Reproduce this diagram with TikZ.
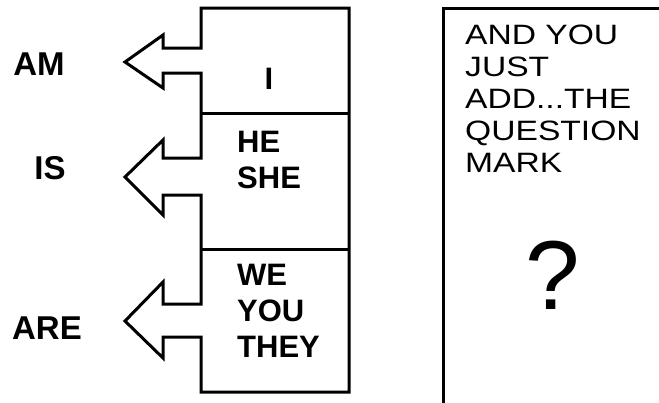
\documentclass[tikz,border=0pt]{standalone}
\usepackage{fontspec}
\setmainfont{Liberation Sans}
\newfontfamily\wfont[FakeStretch=1.2]{Liberation Sans}
\begin{document}
\begin{tikzpicture}[x=1pt,y=-1pt,
  outline/.style={line width=3pt,line join=miter},
  lbl/.style={font=\bfseries\fontsize{33}{33}\selectfont,inner sep=0pt},
  boxtxt/.style={font=\bfseries\fontsize{31}{36}\selectfont,inner sep=0pt,align=left,anchor=west},
  note/.style={font=\wfont\fontsize{28}{32}\selectfont,inner sep=0pt,align=left,anchor=north west}]
\useasboundingbox (0,0) rectangle (659,402);
% left box with arrows
\draw[outline] (349,112) -- (349,8) -- (201,8) -- (201,48) -- (163,48) -- (163,35) -- (125,62)
  -- (163,88) -- (163,73) -- (201,73) -- (201,158) -- (163,158) -- (163,140) -- (125,177)
  -- (163,215) -- (163,195) -- (201,195) -- (201,304) -- (163,304) -- (163,282) -- (125,321)
  -- (163,358) -- (163,337) -- (201,337) -- (201,392) -- (349,392) -- (349,112);
\draw[outline] (201,113) -- (349,113);
\draw[outline] (201,249) -- (349,249);
% right box
\draw[outline] (443,404) -- (443,8) -- (662,8);
% labels
\node[lbl] (am) at (39,64) {AM};
\node[lbl] (is) at (50,168) {IS};
\node[lbl] (are) at (47,328) {ARE};
\node[boxtxt,anchor=center] (i) at (269,79) {I};
\node[boxtxt] (he) at (237,160) {HE\\SHE};
\node[boxtxt] (we) at (237,311) {WE\\YOU\\THEY};
\node[note] (txt) at (465,25) {AND YOU\\JUST\\ADD...THE\\QUESTION\\MARK};
\node[font=\fontsize{98}{98}\selectfont,inner sep=0pt] (q) at (553,275) {?};
\end{tikzpicture}
\end{document}
